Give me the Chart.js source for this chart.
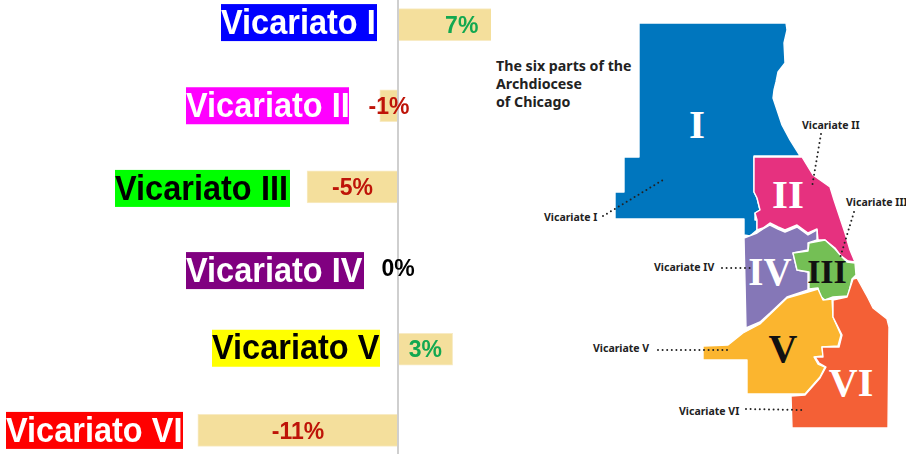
<!DOCTYPE html>
<html lang="en">
<head>
<meta charset="UTF-8">
<title>Vicariatos</title>
<style>
  html, body { margin: 0; padding: 0; background: #fff; }
  body { position: relative; width: 906px; height: 454px; overflow: hidden; }
  #myChart { position: absolute; left: 0; top: -16px; }
  #map { position: absolute; left: 0; top: 0; }
  .num { font-family: "Liberation Serif", serif; font-weight: 700; text-anchor: middle; }
  .tag { font-family: "Noto Sans", sans-serif; font-weight: 700; font-size: 10.5px; fill: #222; }
  .title { font-family: "Noto Sans", sans-serif; font-weight: 700; font-size: 14.2px; fill: #222; }
  .lead { fill: none; stroke: #222; stroke-width: 2; stroke-linecap: round; stroke-dasharray: 0 4.6; }
  .part { stroke: #fff; stroke-width: 1.4; stroke-linejoin: round; }
</style>
</head>
<body>
<canvas id="myChart" width="906" height="487"></canvas>

<svg id="map" width="906" height="454" viewBox="0 0 906 454">
  <rect x="491" y="0" width="415" height="454" fill="#fff"/>
  <polygon class="part" fill="#0076BE" points="639,23 786,23 787,30 784,43 785,63 778,72 776,82 774,90 773,98 777,110 782,125 790,140 800,156 754,156 754,192 757,198 760,210 755,213 755,220 757,220 757,230 750,236 744,235 744,219 615,219 615,192 624,192 624,157 639,157"/>
  <polygon class="part" fill="#E6317F" points="754,157 802,157 813,175 830,187 834,200 840,218 845,233 850,250 855,262 848,261 840,255 835,248 825,240 818,240 817,229 808,233 797,225 785,230 778,227 770,223 763,228 757,230 757,220 755,213 760,210 757,198 754,192"/>
  <polygon class="part" fill="#8577B7" points="744,238 757,233 763,229 770,225 778,229 785,232 797,227 808,235 817,230 817,240 808,243 808,250 793,253 797,270 808,272 808,290 787,297 770,313 760,322 746,328"/>
  <polygon class="part" fill="#74BF55" points="793,253 808,251 809,243 825,240 835,249 841,256 847,262 855,263 856,275 852,279 848,296 833,297 825,300 820,296 818,288 809,289 809,272 797,270"/>
  <polygon class="part" fill="#FBB52F" points="703,346 728,345 743,333 760,324 787,298 808,292 818,289 823,300 832,299 833,317 841,335 838,346 822,347 823,356 814,357 818,364 825,367 820,377 805,394 747,394 747,360 703,360"/>
  <polygon class="part" fill="#F46036" points="857,278 868,298 873,308 887,319 889,327 888,428 792,428 791,396 805,395 820,378 826,367 819,363 815,357 823,357 822,347 839,347 842,335 833,317 833,300 847,297 853,279"/>

  <text class="num" x="697" y="138" font-size="41" fill="#fff">I</text>
  <text class="num" x="788" y="208" font-size="41" fill="#fff">II</text>
  <text class="num" x="770" y="285" font-size="39" fill="#fff">IV</text>
  <text class="num" x="827" y="283" font-size="34" fill="#111">III</text>
  <text class="num" x="783" y="362" font-size="40" fill="#111">V</text>
  <text class="num" x="851" y="396" font-size="40" fill="#fff">VI</text>

  <text class="title" x="496" y="71">The six parts of the</text>
  <text class="title" x="496" y="89">Archdiocese</text>
  <text class="title" x="496" y="107">of Chicago</text>

  <line class="lead" x1="603" y1="216" x2="663" y2="180"/>
  <line class="lead" x1="821" y1="134" x2="812" y2="187"/>
  <line class="lead" x1="854" y1="212" x2="840" y2="258"/>
  <line class="lead" x1="722" y1="268" x2="750" y2="268"/>
  <line class="lead" x1="658" y1="350" x2="729" y2="350"/>
  <line class="lead" x1="746" y1="409" x2="802" y2="410"/>

  <text class="tag" x="544" y="221">Vicariate I</text>
  <text class="tag" x="802" y="129">Vicariate II</text>
  <text class="tag" x="846" y="206">Vicariate III</text>
  <text class="tag" x="654" y="271">Vicariate IV</text>
  <text class="tag" x="593" y="352">Vicariate V</text>
  <text class="tag" x="679" y="415">Vicariate VI</text>
</svg>

<script src="https://cdn.jsdelivr.net/npm/chart.js"></script>
<script>
  var categories = ['Vicariato I', 'Vicariato II', 'Vicariato III', 'Vicariato IV', 'Vicariato V', 'Vicariato VI'];
  var changes = [7, -1, -5, 0, 3, -11];

  // label chips do not line up with the bars, they were placed by hand in the original
  var chipLeft = [221, 186, 115, 186, 212, 6];
  var chipRight = [377, 349, 290, 364, 380, 183];
  var chipShift = [-2, 0, 1.5, 2.5, -1, 0];
  var chipColors = ['#0000FF', '#FF00FF', '#00FF00', '#800080', '#FFFF00', '#FF0000'];
  var chipText = ['#fff', '#fff', '#000', '#fff', '#000', '#fff'];

  function valueColor(v) {
    if (v > 0) return '#12A850';
    if (v < 0) return '#BE1408';
    return '#000';
  }

  // source text is slightly stretched vertically
  function tallText(ctx, text, x, y, stretch) {
    ctx.save();
    ctx.translate(x, y);
    ctx.scale(1, stretch);
    ctx.fillText(text, 0, 0);
    ctx.restore();
  }

  var labelPlugin = {
    id: 'labelPlugin',
    afterDatasetsDraw: function (chart) {
      var ctx = chart.ctx;
      var x = chart.scales.x;
      var y = chart.scales.y;
      ctx.save();
      ctx.textBaseline = 'middle';
      categories.forEach(function (name, i) {
        var cy = y.getPixelForValue(i);
        var boxY = cy + chipShift[i];
        ctx.fillStyle = chipColors[i];
        ctx.fillRect(chipLeft[i], boxY - 18.5, chipRight[i] - chipLeft[i], 37);

        // widen the word gap so the text fills the chip
        ctx.font = '700 32.5px "Liberation Sans", Arial, sans-serif';
        ctx.textAlign = 'left';
        ctx.wordSpacing = '0px';
        var room = chipRight[i] - chipLeft[i] - 2;
        var extra = Math.max(0, room - ctx.measureText(name).width);
        ctx.wordSpacing = extra + 'px';
        ctx.fillStyle = chipText[i];
        tallText(ctx, name, chipLeft[i], boxY + 1.5, 1.08);
        ctx.wordSpacing = '0px';

        var v = changes[i];
        ctx.font = '700 23px "Liberation Sans", Arial, sans-serif';
        ctx.textAlign = 'center';
        ctx.fillStyle = valueColor(v);
        tallText(ctx, v + '%', (x.getPixelForValue(0) + x.getPixelForValue(v)) / 2, cy + 1.5, 1.06);
      });
      ctx.restore();
    }
  };

  var ctx = document.getElementById('myChart').getContext('2d');
  var myChart = new Chart(ctx, {
    type: 'bar',
    data: {
      labels: categories,
      datasets: [{
        data: changes,
        backgroundColor: '#F4DF9C',
        borderColor: '#F8EBC4',
        borderWidth: 1,
        barThickness: 32
      }]
    },
    plugins: [labelPlugin],
    options: {
      indexAxis: 'y',
      responsive: false,
      animation: false,
      layout: { padding: 0 },
      plugins: { legend: { display: false }, tooltip: { enabled: false } },
      scales: {
        x: {
          min: -21.87,
          max: 27.91,
          afterBuildTicks: function (axis) { axis.ticks = [{ value: 0 }]; },
          ticks: { display: false },
          border: { display: false },
          grid: { color: '#CFCFCF', lineWidth: 2, drawTicks: false }
        },
        y: { display: false }
      }
    }
  });
</script>
</body>
</html>
